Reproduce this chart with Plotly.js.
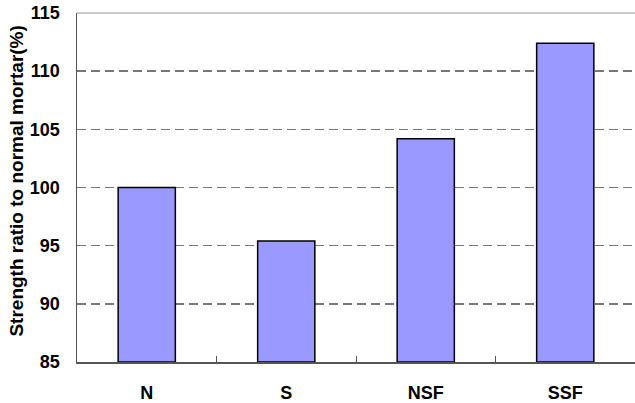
<!DOCTYPE html>
<html>
<head>
<meta charset="utf-8">
<script src="https://cdn.plot.ly/plotly-3.0.1.min.js"></script>
<style>html,body{margin:0;padding:0;background:#fff;}#chart{width:635px;height:403px;}</style>
</head>
<body>
<div id="chart"></div>
<script>
const categories = ["N", "S", "NSF", "SSF"];
const strengthRatio = [100.0, 95.4, 104.2, 112.4];
const yTickValues = [85, 90, 95, 100, 105, 110, 115];
const yTitle = "Strength ratio to normal mortar(%)";
const axisFloor = 85;

const fontFamily = "'Liberation Sans', Arial, sans-serif";

const trace = {
  type: "bar",
  x: categories,
  y: strengthRatio.map(v => v - axisFloor),
  base: axisFloor,
  width: 0.41,
  marker: {color: "#9999ff", line: {color: "#000000", width: 1.5}},
  hoverinfo: "none"
};

const layout = {
  width: 635,
  height: 403,
  margin: {l: 77, r: 0, t: 13, b: 41},
  paper_bgcolor: "#ffffff",
  plot_bgcolor: "#ffffff",
  showlegend: false,
  font: {family: fontFamily, color: "#000000"},
  xaxis: {
    type: "category",
    range: [-0.5, 3.5],
    showgrid: false,
    zeroline: false,
    showline: true,
    linecolor: "#555555",
    linewidth: 1.5,
    ticks: "inside",
    tickson: "boundaries",
    ticklen: 6,
    tickcolor: "#555555",
    tickwidth: 1,
    tickfont: {size: 18, family: fontFamily, weight: "bold", color: "#000"},
    ticklabelstandoff: 14
  },
  yaxis: {
    range: [85, 115],
    tickvals: yTickValues,
    showgrid: true,
    gridcolor: "#777777",
    griddash: "9px,5px",
    gridwidth: 1.5,
    zeroline: false,
    showline: true,
    linecolor: "#555555",
    linewidth: 1.5,
    ticks: "",
    tickfont: {size: 18, family: fontFamily, weight: "bold", color: "#000"},
    ticklabelstandoff: 12
  },
  annotations: [{
    text: yTitle, textangle: -90, showarrow: false,
    xref: "paper", yref: "paper", x: -0.1075, y: 0.517,
    xanchor: "center", yanchor: "middle",
    font: {size: 19, family: fontFamily, weight: "bold", color: "#000"}
  }],
  shapes: [{
    type: "line", xref: "paper", yref: "paper", x0: 0, x1: 1, y0: 1, y1: 1,
    line: {color: "#b8b8b8", width: 1.5}
  }]
};

Plotly.newPlot("chart", [trace], layout, {staticPlot: true, displayModeBar: false});
</script>
</body>
</html>
